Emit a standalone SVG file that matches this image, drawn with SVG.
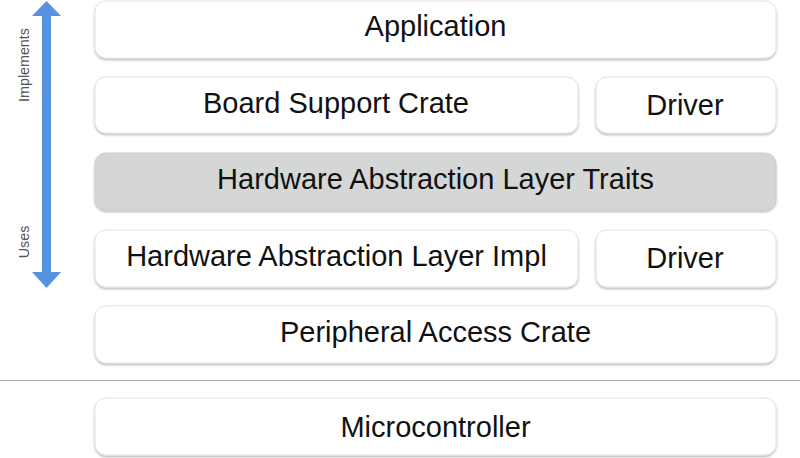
<svg xmlns="http://www.w3.org/2000/svg" width="800" height="458" viewBox="0 0 800 458">
<style>
.box{fill:#ffffff;stroke:#ecdfe2;stroke-width:1}
.gray{fill:#d5d6d6;stroke:#cfcfcf}
.lbl{font-family:"Liberation Sans",Arial,sans-serif;font-size:29px;fill:#111;text-anchor:middle}
.side{font-family:"Liberation Sans",Arial,sans-serif;font-size:14.3px;fill:#555;text-anchor:middle}
</style>
<defs>
<filter id="sh" x="-5%" y="-10%" width="110%" height="130%">
<feDropShadow dx="0" dy="1.5" stdDeviation="0.8" flood-color="#000" flood-opacity="0.3"/>
</filter>
</defs>
<rect width="800" height="458" fill="#ffffff"/>
<g id="connectors">
<rect x="42" y="15" width="9" height="258" fill="#5592e0"/>
<polygon points="46.5,1 32,16 61,16" fill="#5592e0"/>
<polygon points="46.5,288 32,272 61,272" fill="#5592e0"/>
<line x1="0" y1="380.5" x2="800" y2="380.5" stroke="#aaaaaa" stroke-width="1.2"/>
</g>
<g id="implements"><text class="side" transform="translate(29,65) rotate(-90)">Implements</text></g>
<g id="uses"><text class="side" transform="translate(29,242) rotate(-90)">Uses</text></g>
<g id="application"><rect class="box" filter="url(#sh)" x="95" y="1" width="681" height="57" rx="11"/><text class="lbl" x="435.5" y="36">Application</text></g>
<g id="bsc"><rect class="box" filter="url(#sh)" x="95" y="77" width="483" height="56" rx="11"/><text class="lbl" x="336" y="112.5">Board Support Crate</text></g>
<g id="driver1"><rect class="box" filter="url(#sh)" x="596" y="77" width="180" height="56" rx="11"/><text class="lbl" x="685" y="115">Driver</text></g>
<g id="halt"><rect class="box gray" filter="url(#sh)" x="95" y="153" width="681" height="57" rx="11"/><text class="lbl" x="435.5" y="189">Hardware Abstraction Layer Traits</text></g>
<g id="hali"><rect class="box" filter="url(#sh)" x="95" y="230" width="483" height="57" rx="11"/><text class="lbl" x="336.5" y="266">Hardware Abstraction Layer Impl</text></g>
<g id="driver2"><rect class="box" filter="url(#sh)" x="596" y="230" width="180" height="57" rx="11"/><text class="lbl" x="685" y="268">Driver</text></g>
<g id="pac"><rect class="box" filter="url(#sh)" x="95" y="306" width="681" height="57" rx="11"/><text class="lbl" x="435.5" y="342">Peripheral Access Crate</text></g>
<g id="mcu"><rect class="box" filter="url(#sh)" x="95" y="398" width="681" height="57" rx="11"/><text class="lbl" x="435.5" y="437">Microcontroller</text></g>
</svg>
